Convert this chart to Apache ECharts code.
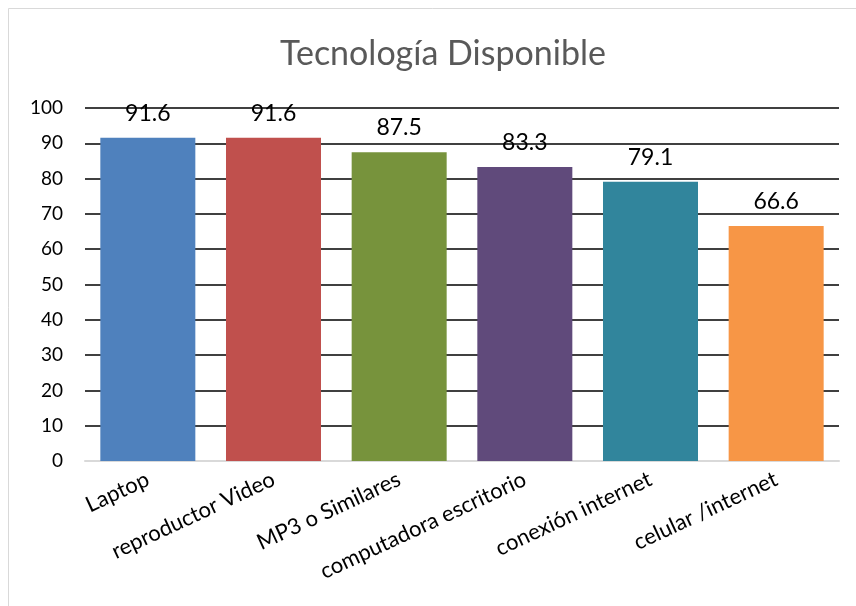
<!DOCTYPE html>
<html>
<head>
<meta charset="utf-8">
<script src="https://cdn.jsdelivr.net/npm/echarts@6/dist/echarts.min.js"></script>
<style>
html,body{margin:0;padding:0;background:#fff;}
#chart{width:856px;height:606px;}
</style>
</head>
<body>
<div id="chart"></div>
<script>
const titleText = 'Tecnología Disponible';
const categories = ['Laptop', 'reproductor Video', 'MP3 o Similares', 'computadora escritorio', 'conexión internet', 'celular /internet'];
const values = [91.6, 91.6, 87.5, 83.3, 79.1, 66.6];
const barColors = ['#4F81BD', '#C0504D', '#77933C', '#604A7B', '#31859C', '#F79646'];
const yTicks = { min: 0, max: 100, interval: 10 };

const chart = echarts.init(document.getElementById('chart'), null, { renderer: 'canvas' });
const FONT = 'Lato, "Open Sans", sans-serif';
chart.setOption({
  animation: false,
  backgroundColor: '#fff',
  textStyle: { fontFamily: FONT },
  graphic: [{
    type: 'rect', shape: { x: 8.5, y: 8.5, width: 900, height: 700 },
    style: { fill: 'none', stroke: '#d9d9d9', lineWidth: 1 }, silent: true, z: -1
  }],
  title: {
    text: titleText, left: 275, top: 32,
    textStyle: { fontFamily: FONT, fontSize: 34, fontWeight: 'normal', color: '#595959' }
  },
  grid: { left: 85, right: 17, top: 108, bottom: 145, containLabel: false },
  xAxis: {
    type: 'category', data: categories,
    axisLine: { lineStyle: { color: '#d9d9d9', width: 2 } },
    axisTick: { show: false },
    axisLabel: { rotate: 25, fontSize: 22, color: '#000', margin: 17, interval: 0, fontFamily: FONT }
  },
  yAxis: {
    type: 'value', min: yTicks.min, max: yTicks.max, interval: yTicks.interval,
    axisLine: { show: false }, axisTick: { show: false },
    axisLabel: { fontSize: 19, color: '#000', margin: 22, fontFamily: FONT },
    splitLine: { lineStyle: { color: '#000', width: 1.5 } }
  },
  series: [{
    type: 'bar',
    data: values.map((v, i) => ({ value: v, itemStyle: { color: barColors[i] } })),
    barCategoryGap: '24.4%',
    label: { show: true, position: 'top', distance: 13, fontSize: 23, color: '#000', fontFamily: FONT }
  }]
});
</script>
</body>
</html>
